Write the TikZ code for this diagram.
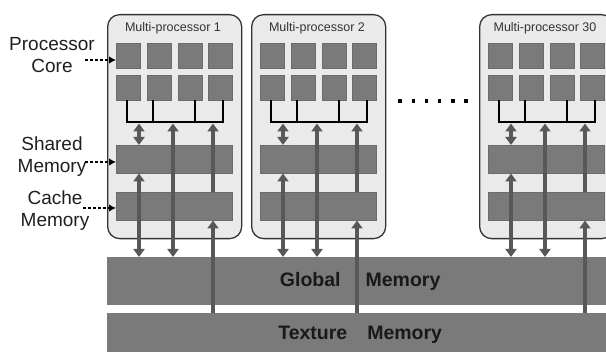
\documentclass[tikz,border=0pt]{standalone}
\usepackage{fontspec}
\setmainfont{Liberation Sans}
\usepackage{xcolor}
\usepackage{tikz}
\usetikzlibrary{arrows.meta}

\definecolor{boxfill}{HTML}{EAEAEA}
\definecolor{boxedge}{HTML}{333333}
\definecolor{unitgray}{HTML}{7A7A7A}
\definecolor{linkgray}{HTML}{585858}

\begin{document}
\begin{tikzpicture}[x=1pt, y=-1pt,
		mpbox/.style={draw=boxedge, line width=1.3pt, fill=boxfill, rounded corners=12pt, minimum width=134pt, minimum height=224pt, anchor=north west, inner sep=0pt},
		mptitle/.style={anchor=base, inner sep=0pt, font=\fontsize{12.5}{15}\selectfont, text=black!80},
		core/.style={fill=unitgray, draw=unitgray!88!black, line width=0.5pt, minimum width=24pt, minimum height=25pt, anchor=north west, inner sep=0pt},
		membar/.style={fill=unitgray, draw=unitgray!88!black, line width=0.5pt, minimum width=116pt, minimum height=28pt, anchor=north west, inner sep=0pt},
		bigmem/.style={fill=unitgray, minimum width=506pt, anchor=north west, inner sep=0pt, font=\fontsize{19.5}{23}\selectfont\bfseries, text=black!90},
		bus/.style={line width=2.2pt, black},
		link/.style={linkgray, line width=3.2pt, -{Triangle[width=11pt,length=8pt]}},
		dlink/.style={linkgray, line width=3.2pt, {Triangle[width=11pt,length=8pt]}-{Triangle[width=11pt,length=8pt]}},
		side/.style={align=center, inner sep=0pt, font=\fontsize{19}{22}\selectfont, text=black!88},
		pointer/.style={densely dashed, line width=1.2pt, -{Latex[length=7pt,width=7.5pt]}}]
	\clip (0,0) rectangle (606,352);

	\node[bigmem, minimum height=48pt] (gm) at (107,257) {Global\hspace{25pt}Memory};
	\node[bigmem, minimum height=44pt] (tm) at (107,313) {Texture\hspace{20pt}Memory};

	\foreach \L/\k in {107/1, 251/2, 479/30} {
		\node[mpbox] (mp\k) at (\L,14) {};
		\node[mptitle] (mpt\k) at (\L+66,32) {Multi-processor \k};
		\foreach \c in {1,...,4} {
			\node[core] (pa\k-\c) at ({\L+9+30.8*(\c-1)},43) {};
			\node[core] (pb\k-\c) at ({\L+9+30.8*(\c-1)},75) {};
		}
		\node[membar] (sm\k) at (\L+9,145) {};
		\node[membar] (cm\k) at (\L+9,192) {};

		% bus under the second row of cores
		\coordinate (bus\k) at (\L+67,122);
		\draw[bus] ([xshift=-1pt]pb\k-1.south) -- ([xshift=-1pt]pb\k-1.south |- bus\k) -- ([xshift=2pt]pb\k-4.south |- bus\k) -- ([xshift=2pt]pb\k-4.south);
		\draw[bus] ([xshift=-6pt]pb\k-2.south) -- ([xshift=-6pt]pb\k-2.south |- bus\k);
		\draw[bus] ([xshift=5pt]pb\k-3.south) -- ([xshift=5pt]pb\k-3.south |- bus\k);

		\coordinate (xa\k) at (\L+32,0);
		\coordinate (xb\k) at (\L+66,0);
		\coordinate (xc\k) at (\L+106,0);
		\draw[dlink] ([yshift=-1.5pt]bus\k -| xa\k) -- (sm\k.north -| xa\k);
		\draw[dlink] ([yshift=-1.5pt]bus\k -| xb\k) -- (gm.north -| xb\k);
		\draw[link] (cm\k.north -| xc\k) -- ([yshift=-1.5pt]bus\k -| xc\k);
		\draw[dlink] (sm\k.south -| xa\k) -- (gm.north -| xa\k);
		\draw[link] (tm.north -| xc\k) -- (cm\k.south -| xc\k);
	}

	\foreach \d in {0,...,5}
		\fill (398.3+13.2*\d,99.3) rectangle ++(3.4,3.4);

	\node[side] (lpc) at (52,55) {Processor\\Core};
	\node[side] (lsm) at (52,157) {Shared\\Memory};
	\node[side] (lcm) at (55,211) {Cache\\Memory};
	\coordinate (dpc) at (85,60);
	\coordinate (dsm) at (85,162);
	\coordinate (dcm) at (83,208);
	\draw[pointer] (dpc) -- (pa1-1.west |- dpc);
	\draw[pointer] (dsm) -- (sm1.west |- dsm);
	\draw[pointer] (dcm) -- (cm1.west |- dcm);
\end{tikzpicture}
\end{document}
